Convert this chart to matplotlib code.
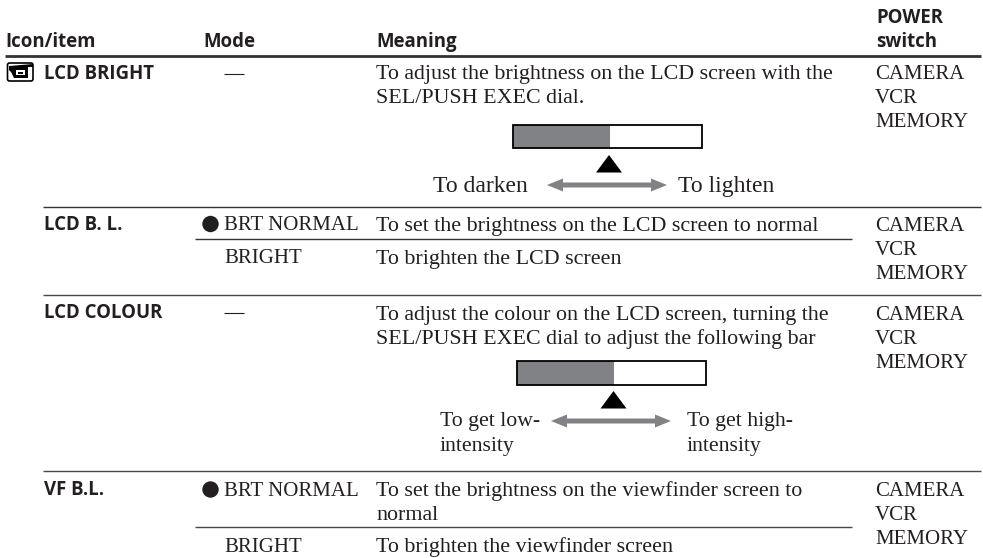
import matplotlib
matplotlib.use("Agg")
import matplotlib.pyplot as plt
from matplotlib.patches import Rectangle, Circle, Polygon, FancyBboxPatch

INK = "#231f20"
GREY = "#808285"
SERIF = "Liberation Serif"
SANS = "Open Sans"
SENTENCE = 15.8
CAPS = 15.0
LOW_HIGH = 15.7
DARK_LIGHT = 17.0
HEAD = 13.4

headers = ["Icon/item", "Mode", "Meaning"]
header_x = [5.0, 203.0, 376.0]
power_header = ["POWER", "switch"]

items = ["LCD BRIGHT", "LCD B. L.", "LCD COLOUR", "VF B.L."]
item_y = [79, 230, 318, 495]

modes = ["BRT NORMAL", "BRIGHT", "BRT NORMAL", "BRIGHT"]
mode_y = [230, 263, 496, 552]
default_mode_y = [224, 489.5]
dash_y = [74, 313]

meanings = [
    ("To adjust the brightness on the LCD screen with the", 79),
    ("SEL/PUSH EXEC dial.", 103),
    ("To set the brightness on the LCD screen to normal", 231),
    ("To brighten the LCD screen", 264),
    ("To adjust the colour on the LCD screen, turning the", 320),
    ("SEL/PUSH EXEC dial to adjust the following bar", 344),
    ("To set the brightness on the viewfinder screen to", 496),
    ("normal", 520),
    ("To brighten the viewfinder screen", 552),
]

power_labels = ["CAMERA", "VCR", "MEMORY"]
power_y = [79, 231, 320, 496]

scale_large = [("To darken", 433, 192), ("To lighten", 678, 192)]
scale_small = [
    ("To get low-", 440, 426), ("intensity", 440, 451),
    ("To get high-", 687, 426), ("intensity", 687, 451),
]

# left, right, top, bottom, filled-to
bars = [(512.5, 701.5, 124.5, 148, 610), (517, 705.5, 360.5, 384.5, 614)]
pointers = [(609, 155, 172.5), (613.5, 391, 408.5)]
arrows = [(547, 667, 185), (551, 671, 421)]

rules = [
    (5, 981, 56, 2.0, "#333333"),
    (43, 981, 206.5, 1.0, "#333333"),
    (195, 852, 239, 1.0, "#333333"),
    (43, 981, 294.5, 1.0, "#4a4a4a"),
    (43, 981, 470.7, 1.0, "#4a4a4a"),
    (195, 852, 526.7, 1.0, "#4a4a4a"),
]

fig = plt.figure(figsize=(9.83, 5.58), dpi=100, facecolor="white")
ax = fig.add_axes([0, 0, 1, 1])
ax.set_xlim(0, 983)
ax.set_ylim(558, 0)
ax.axis("off")


def body(x, y, s, size):
    ax.text(x, y, s, family=SERIF, fontsize=size, color=INK, va="baseline", ha="left")


def bold(x, y, s):
    ax.text(x, y, s, family=SANS, fontsize=HEAD, weight="bold", color=INK,
            va="baseline", ha="left")


for s, x in zip(headers, header_x):
    bold(x, 47, s)
bold(876, 23, power_header[0])
bold(876, 47, power_header[1])

for s, y in zip(items, item_y):
    bold(43.5, y, s)

for s, y in zip(modes, mode_y):
    body(224, y, s, CAPS)
for y in default_mode_y:
    ax.add_patch(Circle((210.5, y), 8.2, fc=INK, ec="none"))
for y in dash_y:
    ax.plot([224, 244], [y, y], color=INK, lw=0.8, solid_capstyle="butt")

for s, y in meanings:
    body(376, y, s, SENTENCE)

for y0 in power_y:
    for i, s in enumerate(power_labels):
        body(875, y0 + 24 * i, s, CAPS)

for s, x, y in scale_large:
    body(x, y, s, DARK_LIGHT)
for s, x, y in scale_small:
    body(x, y, s, LOW_HIGH)

for x0, x1, y, lw, c in rules:
    ax.plot([x0, x1], [y, y], color=c, lw=lw * 72 / 100 * 1.4, solid_capstyle="butt")

for x0, x1, top, bot, split in bars:
    ax.add_patch(Rectangle((x0, top), split - x0, bot - top, fc=GREY, ec="none"))
    ax.add_patch(Rectangle((x0, top), x1 - x0, bot - top, fc="none", ec="black", lw=1.3))

for x, apex, base in pointers:
    ax.add_patch(Polygon([(x, apex), (x - 13, base), (x + 13, base)], fc="black", ec="none"))

for x0, x1, y in arrows:
    ax.add_patch(Polygon([
        (x0, y), (x0 + 16, y - 6.5), (x0 + 16, y - 2.5), (x1 - 16, y - 2.5),
        (x1 - 16, y - 6.5), (x1, y), (x1 - 16, y + 6.5), (x1 - 16, y + 2.5),
        (x0 + 16, y + 2.5), (x0 + 16, y + 6.5)], fc=GREY, ec="none"))

# viewfinder / LCD icon
ax.add_patch(FancyBboxPatch((7.5, 63), 25.5, 18, boxstyle="round,pad=0,rounding_size=2",
                            fc="white", ec="black", lw=1.2))
ax.add_patch(Polygon([(9, 66), (33, 64), (33, 67), (28, 67), (28, 78), (14, 78),
                      (11, 72), (9, 70)], fc="black", ec="none"))
ax.add_patch(Rectangle((15.5, 70), 9, 5, fc="white", ec="none"))
ax.add_patch(Rectangle((17.5, 71.5), 5, 2, fc="black", ec="none"))

fig.savefig("out.png", dpi=100, facecolor="white")
